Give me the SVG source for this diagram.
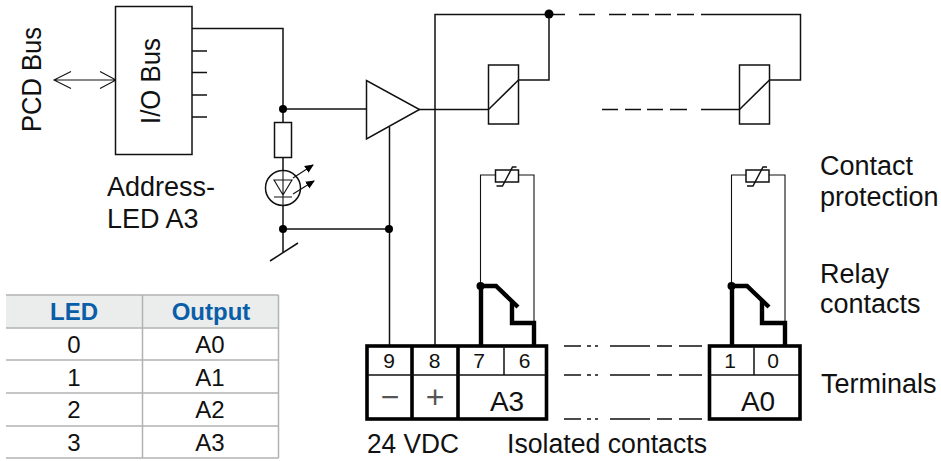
<svg xmlns="http://www.w3.org/2000/svg" width="941" height="461" viewBox="0 0 941 461">
<style>
text{font-family:"Liberation Sans",Arial,sans-serif;fill:#111;font-size:27px}
.m{text-anchor:middle;font-size:28px}
.s{text-anchor:middle;font-size:32px;fill:#555}
.t{font-size:24px;text-anchor:middle}
.h{font-size:24px;text-anchor:middle;font-weight:bold;fill:#0a5ea8}
.d{font-size:21px;text-anchor:middle}
.w,.b,.th{fill:none;stroke:#111;stroke-linejoin:miter}
.w{stroke-width:1.5}
.th{stroke-width:1.1}
.b{stroke:#000;stroke-width:4.4}
.bx{fill:#fff;stroke:#111;stroke-width:1.5}
.g{stroke:#b2b2b2;stroke-width:1.5;fill:none}
.k{stroke:#000;stroke-width:3.6;fill:none}
</style>
<defs>
<marker id="led" markerWidth="9" markerHeight="9" refX="8" refY="4.5" orient="auto" markerUnits="userSpaceOnUse"><path d="M0 0.5L9 4.500L0 8.500Z" fill="#000"/></marker>
<g id="var"><path class="bx" d="M0 0h23v12h-23z"/><path class="w" d="M1 16h6L17 -3h4" /></g>
</defs>

<g id="connectors">
<path class="w" d="M191 28.500H283V252"/>
<path class="w" d="M283 109H367"/>
<path class="w" d="M283 229H389"/>
<path class="w" d="M270 261L298 243"/>
<path class="w" d="M389.500 127V345"/>
<path class="w" d="M419 109.500H488"/>
<path class="w" d="M435 345V14.500H549V80H518"/>
<path class="w" d="M549 14.500H565M579 14.500H595M609 14.500H626M632 14.500H649M655 14.500H671M677 14.500H694M701 14.500H800.500V80H769"/>
<path class="w" d="M602 109.500H618M625 109.500H641M647 109.500H663M670 109.500H687M701 109.500H739"/>
<path class="w" d="M190 51H207M190 72.500H207M190 95H207M190 117H207"/>
<path class="th" d="M54 80H116M71 71.500L54 80L71 88.500M100 71.500L116 80L100 88.500"/>
<path class="w" d="M564 346H581M587 346H591M595 346H598M610 346H650M657 346H672M679 346H702"/>
<path class="w" d="M564 375H581M587 375H591M595 375H598M610 375H650M657 375H672M679 375H702"/>
<path class="w" d="M564 419H581M587 419H591M595 419H598M610 419H650M657 419H672M679 419H702"/>
<circle cx="283" cy="109" r="4"/>
<circle cx="283" cy="229" r="4"/>
<circle cx="389" cy="229" r="4"/>
<circle cx="549" cy="14" r="4.500"/>
</g>

<g id="pcd-bus"><text transform="translate(41,132) rotate(-90)" textLength="105" lengthAdjust="spacingAndGlyphs">PCD Bus</text></g>
<g id="io-bus"><rect class="bx" x="115.500" y="6.500" width="76.500" height="148"/><text transform="translate(160,124) rotate(-90)" textLength="86" lengthAdjust="spacingAndGlyphs">I/O Bus</text></g>
<g id="address-label"><text x="107" y="196">Address-</text><text x="107" y="228">LED A3</text></g>

<g id="resistor"><rect class="bx" x="274.500" y="122.500" width="17" height="35"/></g>
<g id="led-symbol">
<circle class="w" cx="283" cy="188" r="17.500" style="fill:#fff"/>
<path class="th" d="M274 180H292L283 195ZM274 197H292M283 170.500V205.500"/>
<path class="th" marker-end="url(#led)" d="M293 178L313 165"/>
<path class="th" marker-end="url(#led)" d="M293 194L314 181"/>
</g>
<g id="amplifier"><path class="bx" d="M366.500 80.500V139L419.500 109.500Z"/></g>

<g id="relay-a3"><rect class="bx" x="488.500" y="65" width="30" height="59"/><path class="w" d="M488.500 109.500L518.500 80"/></g>
<g id="relay-a0"><rect class="bx" x="739.500" y="65" width="30" height="59"/><path class="w" d="M739.500 109.500L769.500 80"/></g>

<g id="contact-a3">
<path class="th" d="M480.500 286V175H495.500M518 175H534V323"/>
<use href="#var" x="495.500" y="170"/>
<path class="b" d="M481 345V286H496L518 307"/>
<path class="b" d="M512 301V323H534V345"/>
<circle cx="480.500" cy="286" r="4"/>
</g>
<g id="contact-a0">
<path class="th" d="M731.500 286V175H746M769 175H785V323"/>
<use href="#var" x="746" y="170"/>
<path class="b" d="M732 345V286H747L769 307"/>
<path class="b" d="M762 301V323H785V345"/>
<circle cx="731.500" cy="286" r="4"/>
</g>

<g id="terminals-a3">
<rect class="k" x="367" y="346" width="179.500" height="73"/>
<path class="k" d="M412 346V419M458 346V419"/>
<path class="w" d="M368 375H546M504 346V375"/>
<text class="d" x="389" y="368">9</text><text class="d" x="434.500" y="368">8</text><text class="d" x="479" y="368">7</text><text class="d" x="524.500" y="368">6</text>
<text class="s" x="390" y="408">−</text><text class="s" x="435" y="408">+</text>
<text class="m" x="507" y="411">A3</text>
</g>
<g id="terminals-a0">
<rect class="k" x="709.500" y="346" width="90.500" height="73"/>
<path class="w" d="M710 375H799M754 346V375"/>
<text class="d" x="730" y="368">1</text><text class="d" x="773" y="368">0</text>
<text class="m" x="758" y="411">A0</text>
</g>

<g id="labels">
<text x="820" y="175">Contact</text><text x="820" y="206">protection</text>
<text x="820" y="283">Relay</text><text x="820" y="313">contacts</text>
<text x="821" y="393">Terminals</text>
<text x="367" y="453" textLength="92" lengthAdjust="spacingAndGlyphs">24 VDC</text>
<text x="507" y="453" textLength="200" lengthAdjust="spacingAndGlyphs">Isolated contacts</text>
</g>

<g id="table">
<rect x="6" y="295" width="272.500" height="33" fill="#ebecec"/>
<path class="g" d="M6 295H278.500M6 328H278.500M6 360H278.500M6 393H278.500M6 426H278.500M6 458H278.500M142.500 295V458M278.500 295V458"/>
<text class="h" x="74" y="320">LED</text><text class="h" x="211" y="320">Output</text>
<text class="t" x="74" y="353">0</text><text class="t" x="210" y="353">A0</text>
<text class="t" x="74" y="386">1</text><text class="t" x="210" y="386">A1</text>
<text class="t" x="74" y="418">2</text><text class="t" x="210" y="418">A2</text>
<text class="t" x="74" y="451">3</text><text class="t" x="210" y="451">A3</text>
</g>
</svg>
